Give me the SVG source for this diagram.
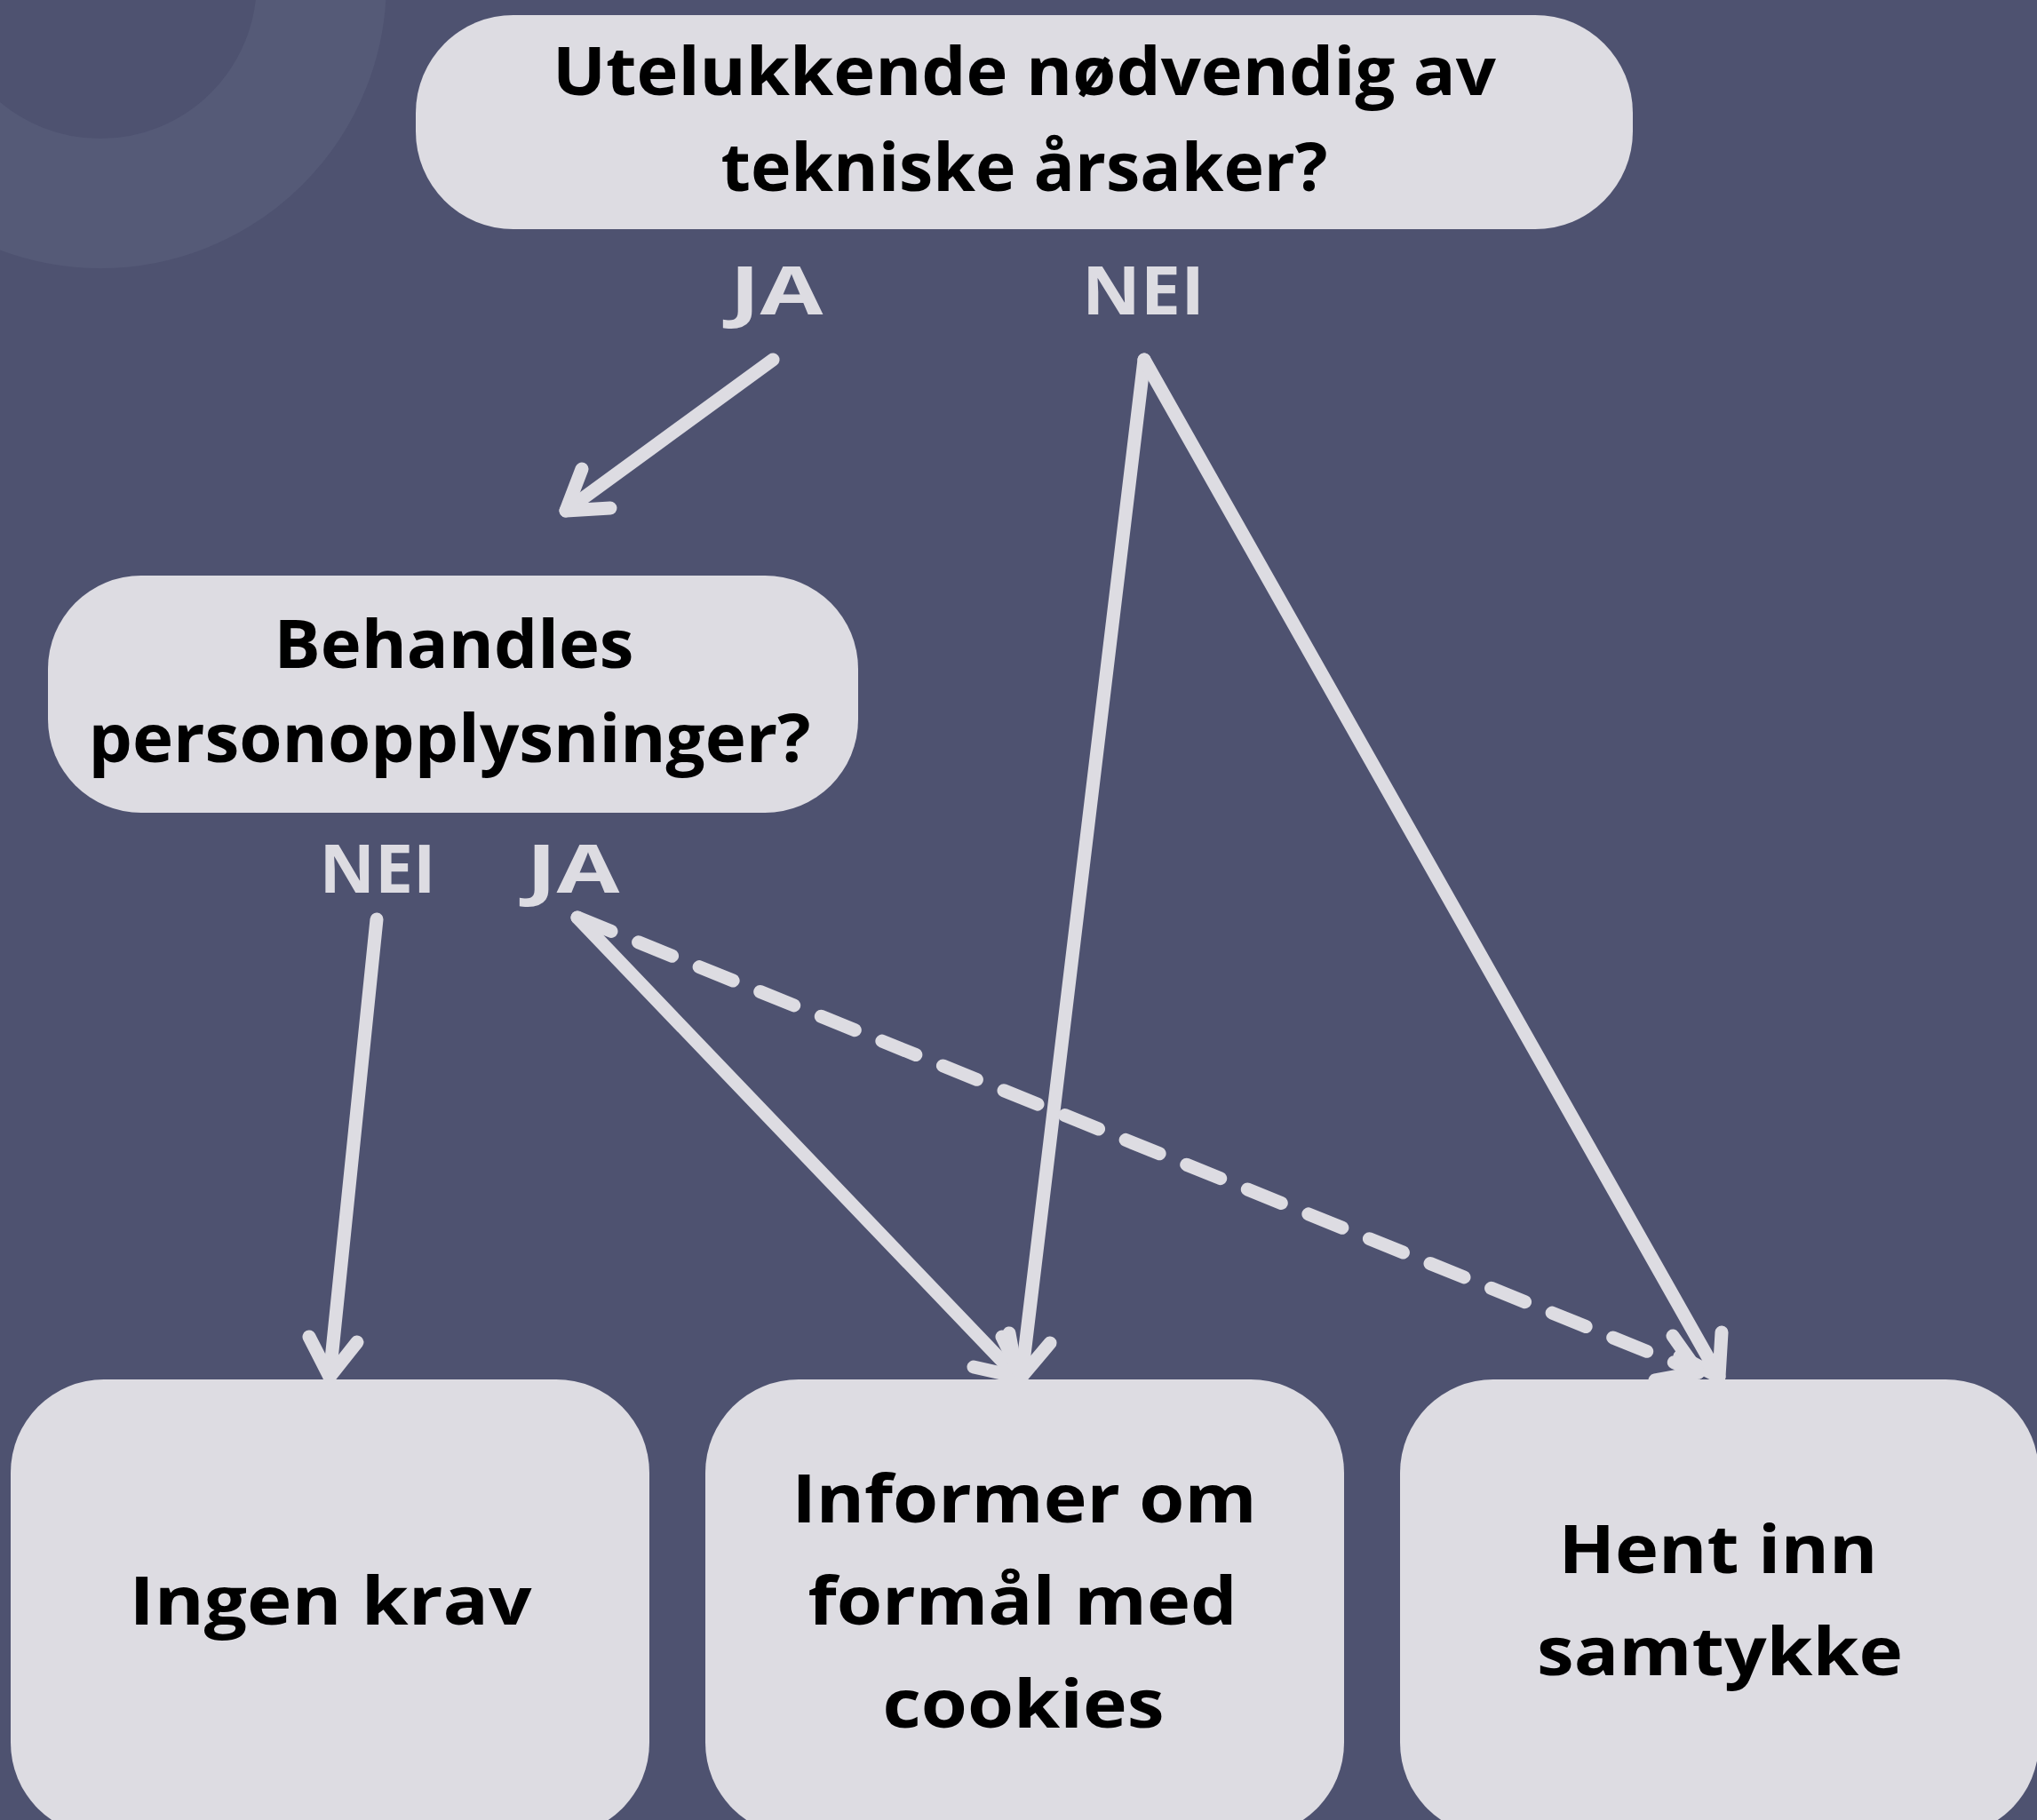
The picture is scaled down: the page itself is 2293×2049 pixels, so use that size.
<svg xmlns="http://www.w3.org/2000/svg" width="2293" height="2049" viewBox="0 0 2293 2049">
  <style>
    .node { fill: #DDDCE2; }
    .t { font-family: "Open Sans", "Liberation Sans", sans-serif; font-weight: 700; font-size: 76px; fill: #000000; text-anchor: middle; }
    .lbl { font-family: "Open Sans", "Liberation Sans", sans-serif; font-weight: 700; font-size: 76px; fill: #DDDCE2; text-anchor: middle; }
    .ln { fill: none; stroke: #DDDCE2; stroke-width: 15; stroke-linecap: round; stroke-linejoin: round; }
    .dash { stroke-dasharray: 41 33; }
  </style>
  <rect x="0" y="0" width="2293" height="2049" fill="#4E5270"/>
  <circle cx="113" cy="-20" r="249" fill="none" stroke="#555A77" stroke-width="146"/>

  <g id="connectors">
    <path class="ln" d="M870 405 L637 575"/>
    <path class="ln" d="M687 572 L637 575 L655 528"/>
    <path class="ln" d="M424 1035 L371 1550"/>
    <path class="ln" d="M402 1511 L371 1550 L348 1505"/>
    <path class="ln" d="M650 1033 L1145 1550"/>
    <path class="ln" d="M1136 1501 L1145 1550 L1096 1539"/>
    <path class="ln" d="M1288 405 L1150 1550"/>
    <path class="ln" d="M1182 1512 L1150 1550 L1128 1505"/>
    <path class="ln" d="M1288 405 L1935 1550"/>
    <path class="ln" d="M1938 1500 L1935 1550 L1891 1527"/>
    <path class="ln dash" d="M650 1033 L1912 1545"/>
    <path class="ln" d="M1883 1504 L1912 1545 L1863 1554"/>
  </g>

  <g id="labels">
    <text class="lbl" x="874" y="354" textLength="105" lengthAdjust="spacingAndGlyphs">JA</text>
    <text class="lbl" x="1287" y="354" textLength="138" lengthAdjust="spacingAndGlyphs">NEI</text>
    <text class="lbl" x="425" y="1005" textLength="131" lengthAdjust="spacingAndGlyphs">NEI</text>
    <text class="lbl" x="645" y="1005" textLength="105" lengthAdjust="spacingAndGlyphs">JA</text>
  </g>

  <g id="node-teknisk">
    <rect class="node" x="468" y="17" width="1370" height="241" rx="110" ry="110"/>
    <text class="t" x="1153" y="107" textLength="1062" lengthAdjust="spacingAndGlyphs">Utelukkende nødvendig av</text>
    <text class="t" x="1153" y="215" textLength="683" lengthAdjust="spacingAndGlyphs">tekniske årsaker?</text>
  </g>

  <g id="node-personopplysninger">
    <rect class="node" x="54" y="648" width="912" height="267" rx="105" ry="105"/>
    <text class="t" x="511" y="752" textLength="405" lengthAdjust="spacingAndGlyphs">Behandles</text>
    <text class="t" x="506" y="858" textLength="813" lengthAdjust="spacingAndGlyphs">personopplysninger?</text>
  </g>

  <g id="node-ingen-krav">
    <rect class="node" x="12" y="1553" width="719" height="514" rx="105" ry="105"/>
    <text class="t" x="372" y="1829" textLength="453" lengthAdjust="spacingAndGlyphs">Ingen krav</text>
  </g>

  <g id="node-informer">
    <rect class="node" x="794" y="1553" width="719" height="514" rx="105" ry="105"/>
    <text class="t" x="1153" y="1714" textLength="523" lengthAdjust="spacingAndGlyphs">Informer om</text>
    <text class="t" x="1151" y="1829" textLength="483" lengthAdjust="spacingAndGlyphs">formål med</text>
    <text class="t" x="1152" y="1945" textLength="317" lengthAdjust="spacingAndGlyphs">cookies</text>
  </g>

  <g id="node-samtykke">
    <rect class="node" x="1576" y="1553" width="719" height="514" rx="105" ry="105"/>
    <text class="t" x="1934" y="1771" textLength="359" lengthAdjust="spacingAndGlyphs">Hent inn</text>
    <text class="t" x="1936" y="1886" textLength="412" lengthAdjust="spacingAndGlyphs">samtykke</text>
  </g>
</svg>
